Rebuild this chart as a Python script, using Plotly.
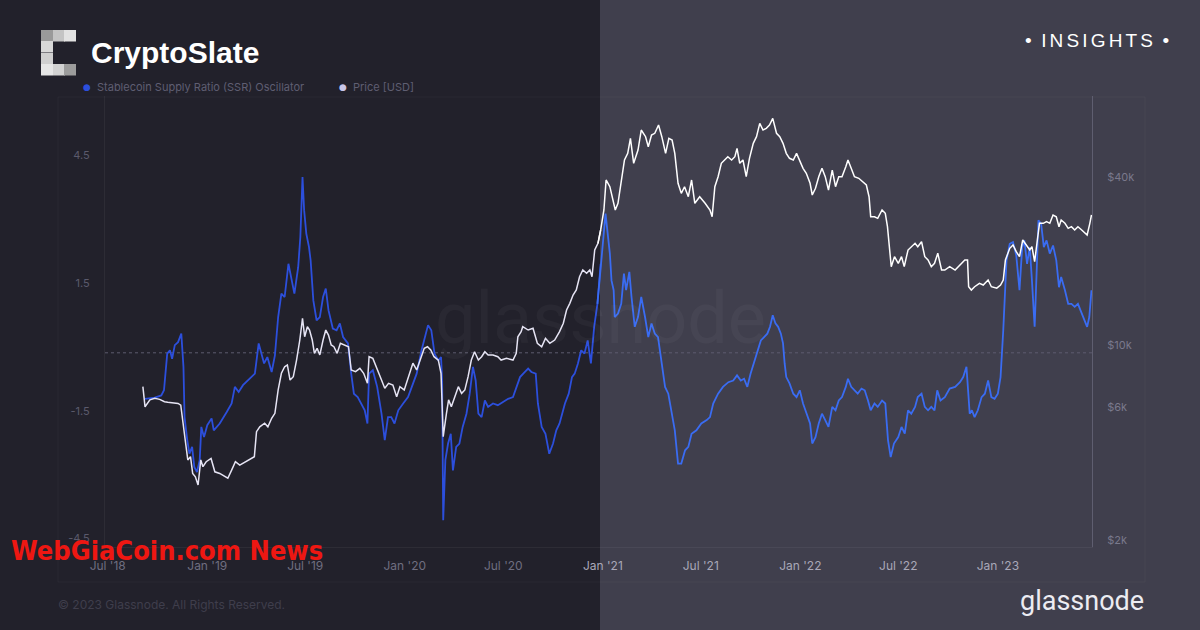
import plotly.graph_objects as go
import pandas as pd

# ---------------- data ----------------
ssr_dates = [
    "2018-09-08", "2018-09-26", "2018-10-08", "2018-10-13", "2018-10-19", "2018-10-24", "2018-10-28", "2018-11-02",
    "2018-11-08", "2018-11-14", "2018-11-18", "2018-11-20", "2018-11-25", "2018-11-29", "2018-12-04", "2018-12-08",
    "2018-12-13", "2018-12-18", "2018-12-21", "2018-12-26", "2019-01-01", "2019-01-09", "2019-01-13", "2019-01-24",
    "2019-02-06", "2019-02-15", "2019-02-21", "2019-02-28", "2019-03-08", "2019-03-21", "2019-03-30", "2019-04-06",
    "2019-04-12", "2019-04-16", "2019-04-22", "2019-04-30", "2019-05-06", "2019-05-12", "2019-05-18", "2019-05-24",
    "2019-05-31", "2019-06-04", "2019-06-11", "2019-06-18", "2019-06-22", "2019-06-26", "2019-06-29", "2019-07-03",
    "2019-07-08", "2019-07-11", "2019-07-16", "2019-07-22", "2019-07-28", "2019-08-03", "2019-08-08", "2019-08-13",
    "2019-08-21", "2019-08-28", "2019-09-03", "2019-09-09", "2019-09-18", "2019-09-24", "2019-09-29", "2019-10-06",
    "2019-10-13", "2019-10-19", "2019-10-24", "2019-10-27", "2019-11-03", "2019-11-11", "2019-11-19", "2019-11-25",
    "2019-12-01", "2019-12-07", "2019-12-13", "2019-12-20", "2019-12-29", "2020-01-07", "2020-01-14", "2020-01-23",
    "2020-02-01", "2020-02-07", "2020-02-13", "2020-02-19", "2020-02-25", "2020-03-03", "2020-03-08", "2020-03-10",
    "2020-03-12", "2020-03-16", "2020-03-21", "2020-03-26", "2020-03-30", "2020-04-05", "2020-04-11", "2020-04-17",
    "2020-04-24", "2020-04-30", "2020-05-06", "2020-05-11", "2020-05-16", "2020-05-22", "2020-05-28", "2020-06-03",
    "2020-06-12", "2020-06-21", "2020-06-30", "2020-07-10", "2020-07-19", "2020-07-26", "2020-08-01", "2020-08-10",
    "2020-08-16", "2020-08-22", "2020-08-30", "2020-09-03", "2020-09-10", "2020-09-17", "2020-09-24", "2020-10-01",
    "2020-10-07", "2020-10-13", "2020-10-23", "2020-10-30", "2020-11-05", "2020-11-10", "2020-11-16", "2020-11-22",
    "2020-11-28", "2020-12-04", "2020-12-10", "2020-12-16", "2020-12-22", "2020-12-28", "2021-01-01", "2021-01-06",
    "2021-01-10", "2021-01-14", "2021-01-17", "2021-01-21", "2021-01-23", "2021-01-29", "2021-02-04", "2021-02-09",
    "2021-02-13", "2021-02-19", "2021-02-23", "2021-03-01", "2021-03-07", "2021-03-13", "2021-03-20", "2021-03-26",
    "2021-04-01", "2021-04-07", "2021-04-13", "2021-04-19", "2021-04-26", "2021-05-02", "2021-05-08", "2021-05-14",
    "2021-05-20", "2021-05-26", "2021-06-02", "2021-06-08", "2021-06-14", "2021-06-23", "2021-07-02", "2021-07-12",
    "2021-07-18", "2021-07-24", "2021-08-02", "2021-08-11", "2021-08-21", "2021-08-30", "2021-09-06", "2021-09-13",
    "2021-09-19", "2021-09-25", "2021-10-01", "2021-10-08", "2021-10-14", "2021-10-20", "2021-10-26", "2021-11-01",
    "2021-11-06", "2021-11-11", "2021-11-16", "2021-11-21", "2021-11-26", "2021-11-30", "2021-12-03", "2021-12-06",
    "2021-12-12", "2021-12-19", "2021-12-25", "2021-12-31", "2022-01-06", "2022-01-12", "2022-01-19", "2022-01-23",
    "2022-01-29", "2022-02-04", "2022-02-10", "2022-02-16", "2022-02-22", "2022-03-01", "2022-03-07", "2022-03-13",
    "2022-03-19", "2022-03-26", "2022-03-30", "2022-04-05", "2022-04-11", "2022-04-17", "2022-04-24", "2022-04-30",
    "2022-05-06", "2022-05-11", "2022-05-18", "2022-05-24", "2022-06-01", "2022-06-07", "2022-06-12", "2022-06-17",
    "2022-06-23", "2022-07-01", "2022-07-07", "2022-07-13", "2022-07-19", "2022-07-25", "2022-08-01", "2022-08-06",
    "2022-08-13", "2022-08-19", "2022-08-25", "2022-08-31", "2022-09-06", "2022-09-11", "2022-09-17", "2022-09-25",
    "2022-10-04", "2022-10-14", "2022-10-23", "2022-10-29", "2022-11-04", "2022-11-07", "2022-11-10", "2022-11-14",
    "2022-11-19", "2022-11-25", "2022-12-02", "2022-12-08", "2022-12-14", "2022-12-20", "2022-12-26", "2023-01-01",
    "2023-01-06", "2023-01-11", "2023-01-14", "2023-01-17", "2023-01-23", "2023-01-29", "2023-02-04", "2023-02-10",
    "2023-02-15", "2023-02-19", "2023-02-24", "2023-03-01", "2023-03-05", "2023-03-10", "2023-03-14", "2023-03-17",
    "2023-03-22", "2023-03-27", "2023-04-01", "2023-04-07", "2023-04-13", "2023-04-19", "2023-04-24", "2023-04-28",
    "2023-05-05", "2023-05-11", "2023-05-17", "2023-05-23", "2023-05-29", "2023-06-05", "2023-06-11", "2023-06-15",
    "2023-06-19", "2023-06-23",
]
ssr_values = [
    -1.08, -1.05, -1.00, -0.88, -0.02, 0.06, -0.14, 0.18,
    0.25, 0.45, -0.33, -1.51, -2.05, -2.37, -2.21, -2.68,
    -2.80, -2.52, -1.74, -1.98, -1.70, -1.54, -1.82, -1.66,
    -1.39, -1.19, -0.80, -0.92, -0.76, -0.61, -0.49, 0.22,
    -0.06, -0.25, -0.10, -0.45, -0.06, 0.84, 1.39, 1.31,
    2.09, 1.86, 1.39, 2.01, 2.72, 4.13, 3.35, 2.80,
    2.48, 2.17, 1.23, 0.76, 0.84, 1.31, 1.51, 1.00,
    0.57, 0.53, 0.69, 0.37, 0.22, -0.49, -0.96, -1.04,
    -1.19, -1.35, -1.66, -0.49, -0.41, -0.80, -1.43, -2.05,
    -1.51, -1.51, -1.66, -1.35, -1.19, -1.04, -0.80, -0.49,
    0.06, 0.37, 0.65, 0.53, -0.02, -0.18, -0.10, -0.65,
    -3.93, -2.52, -2.13, -1.90, -2.76, -2.21, -2.13, -1.74,
    -1.43, -0.96, -0.33, -0.65, -1.43, -1.51, -1.12, -1.27,
    -1.19, -1.23, -1.15, -1.08, -1.04, -0.80, -0.57, -0.45,
    -0.37, -0.45, -0.49, -1.19, -1.74, -1.90, -2.37, -2.13,
    -1.82, -1.66, -1.19, -0.96, -0.57, -0.49, -0.25, 0.06,
    -0.02, 0.29, -0.25, 0.61, 1.15, 2.09, 2.56, 3.27,
    2.72, 2.33, 1.70, 1.47, 0.84, 0.92, 1.15, 1.86,
    1.47, 1.90, 1.31, 0.61, 0.84, 1.31, 0.84, 0.37,
    0.69, 0.45, 0.37, -0.18, -0.80, -0.96, -1.35, -1.82,
    -2.60, -2.60, -2.29, -2.21, -1.90, -1.82, -1.66, -1.58,
    -1.51, -1.19, -0.96, -0.80, -0.69, -0.65, -0.53, -0.65,
    -0.61, -0.80, -0.49, -0.18, 0.06, 0.29, 0.37, 0.45,
    0.61, 0.88, 0.69, 0.61, 0.45, 0.22, -0.25, -0.57,
    -0.72, -0.96, -1.04, -0.88, -1.19, -1.43, -1.66, -2.13,
    -1.98, -1.66, -1.43, -1.58, -1.74, -1.27, -1.35, -1.12,
    -1.04, -0.80, -0.61, -0.80, -0.88, -0.96, -0.84, -0.88,
    -1.12, -1.35, -1.19, -1.27, -1.12, -1.19, -2.05, -2.45,
    -2.13, -1.98, -1.74, -1.90, -1.35, -1.43, -1.27, -1.04,
    -0.96, -1.27, -1.35, -1.27, -1.35, -0.88, -1.12, -1.04,
    -0.84, -0.80, -0.69, -0.57, -0.33, -0.80, -1.43, -1.35,
    -1.51, -1.35, -1.04, -0.96, -0.65, -1.04, -1.08, -0.96,
    -0.57, 0.53, 1.54, 2.17, 2.56, 2.60, 2.29, 1.47,
    2.48, 2.64, 2.09, 2.48, 1.70, 0.61, 2.01, 3.11,
    3.03, 2.48, 2.64, 2.33, 2.52, 2.17, 1.54, 1.78,
    1.47, 1.15, 1.15, 1.08, 1.15, 0.92, 0.76, 0.61,
    0.84, 1.47,
]

price_dates = [
    "2018-09-04", "2018-09-08", "2018-09-17", "2018-09-26", "2018-10-05", "2018-10-14", "2018-10-20", "2018-10-30",
    "2018-11-08", "2018-11-13", "2018-11-17", "2018-11-22", "2018-11-26", "2018-12-01", "2018-12-05", "2018-12-10",
    "2018-12-15", "2018-12-20", "2018-12-24", "2018-12-30", "2019-01-08", "2019-01-15", "2019-01-24", "2019-02-02",
    "2019-02-08", "2019-02-15", "2019-02-22", "2019-03-02", "2019-03-11", "2019-03-21", "2019-03-29", "2019-04-02",
    "2019-04-08", "2019-04-17", "2019-04-23", "2019-04-30", "2019-05-06", "2019-05-12", "2019-05-18", "2019-05-24",
    "2019-05-29", "2019-06-03", "2019-06-09", "2019-06-15", "2019-06-21", "2019-06-26", "2019-06-30", "2019-07-05",
    "2019-07-09", "2019-07-14", "2019-07-18", "2019-07-23", "2019-07-28", "2019-08-03", "2019-08-08", "2019-08-13",
    "2019-08-18", "2019-08-23", "2019-08-29", "2019-09-04", "2019-09-12", "2019-09-19", "2019-09-24", "2019-10-02",
    "2019-10-10", "2019-10-17", "2019-10-24", "2019-10-27", "2019-11-03", "2019-11-11", "2019-11-19", "2019-11-25",
    "2019-12-02", "2019-12-10", "2019-12-17", "2019-12-23", "2019-12-31", "2020-01-04", "2020-01-10", "2020-01-16",
    "2020-01-23", "2020-01-29", "2020-02-06", "2020-02-12", "2020-02-18", "2020-02-24", "2020-03-03", "2020-03-08",
    "2020-03-12", "2020-03-18", "2020-03-22", "2020-03-27", "2020-04-04", "2020-04-09", "2020-04-15", "2020-04-21",
    "2020-04-27", "2020-05-03", "2020-05-09", "2020-05-16", "2020-05-22", "2020-05-28", "2020-06-03", "2020-06-12",
    "2020-06-21", "2020-06-27", "2020-07-07", "2020-07-19", "2020-07-25", "2020-07-28", "2020-08-03", "2020-08-06",
    "2020-08-16", "2020-08-25", "2020-09-02", "2020-09-10", "2020-09-17", "2020-09-25", "2020-10-04", "2020-10-13",
    "2020-10-20", "2020-10-26", "2020-11-01", "2020-11-07", "2020-11-13", "2020-11-19", "2020-11-25", "2020-12-02",
    "2020-12-08", "2020-12-12", "2020-12-17", "2020-12-23", "2020-12-28", "2021-01-03", "2021-01-07", "2021-01-14",
    "2021-01-20", "2021-01-24", "2021-01-29", "2021-02-04", "2021-02-10", "2021-02-16", "2021-02-21", "2021-02-27",
    "2021-03-07", "2021-03-13", "2021-03-21", "2021-03-26", "2021-04-01", "2021-04-07", "2021-04-14", "2021-04-20",
    "2021-04-27", "2021-05-03", "2021-05-09", "2021-05-14", "2021-05-20", "2021-05-26", "2021-06-01", "2021-06-08",
    "2021-06-14", "2021-06-20", "2021-06-29", "2021-07-09", "2021-07-18", "2021-07-22", "2021-07-27", "2021-08-02",
    "2021-08-08", "2021-08-14", "2021-08-20", "2021-08-27", "2021-09-02", "2021-09-06", "2021-09-11", "2021-09-17",
    "2021-09-23", "2021-09-29", "2021-10-06", "2021-10-12", "2021-10-18", "2021-10-24", "2021-10-30", "2021-11-05",
    "2021-11-11", "2021-11-18", "2021-11-24", "2021-11-30", "2021-12-06", "2021-12-12", "2021-12-19", "2021-12-25",
    "2021-12-31", "2022-01-06", "2022-01-12", "2022-01-19", "2022-01-23", "2022-01-29", "2022-02-04", "2022-02-10",
    "2022-02-16", "2022-02-22", "2022-03-01", "2022-03-07", "2022-03-13", "2022-03-19", "2022-03-26", "2022-03-30",
    "2022-04-05", "2022-04-11", "2022-04-19", "2022-04-27", "2022-05-03", "2022-05-08", "2022-05-11", "2022-05-18",
    "2022-05-24", "2022-06-01", "2022-06-07", "2022-06-11", "2022-06-15", "2022-06-18", "2022-06-24", "2022-07-01",
    "2022-07-07", "2022-07-12", "2022-07-19", "2022-07-25", "2022-08-01", "2022-08-06", "2022-08-13", "2022-08-19",
    "2022-08-25", "2022-08-31", "2022-09-06", "2022-09-12", "2022-09-19", "2022-09-25", "2022-10-04", "2022-10-14",
    "2022-10-23", "2022-11-01", "2022-11-06", "2022-11-08", "2022-11-13", "2022-11-19", "2022-11-28", "2022-12-05",
    "2022-12-14", "2022-12-20", "2022-12-30", "2023-01-06", "2023-01-11", "2023-01-15", "2023-01-23", "2023-01-29",
    "2023-02-04", "2023-02-10", "2023-02-16", "2023-02-23", "2023-03-01", "2023-03-05", "2023-03-10", "2023-03-15",
    "2023-03-19", "2023-03-26", "2023-04-01", "2023-04-07", "2023-04-13", "2023-04-19", "2023-04-24", "2023-04-28",
    "2023-05-05", "2023-05-11", "2023-05-17", "2023-05-23", "2023-05-29", "2023-06-05", "2023-06-11", "2023-06-15",
    "2023-06-20", "2023-06-23",
]
price_values = [
    7450, 6310, 6680, 6770, 6710, 6580, 6550, 6530,
    6490, 6400, 5660, 4670, 4070, 4180, 3640, 3540,
    3310, 4070, 3850, 4010, 4120, 3690, 3640, 3540,
    3500, 3740, 4010, 3900, 4000, 4090, 4180, 5140,
    5350, 5510, 5350, 5740, 5980, 7250, 8320, 8780,
    8910, 7870, 8090, 9280, 10950, 13100, 11250, 12220,
    11890, 10950, 9810, 10220, 9680, 10950, 11890, 11410,
    10510, 10360, 9810, 10660, 10510, 10360, 8550, 8430,
    8670, 8320, 7660, 9540, 9410, 8670, 7870, 7350,
    7660, 7550, 6860, 7450, 7250, 7660, 8320, 9040,
    8550, 9280, 10220, 10360, 10080, 9540, 9280, 8320,
    4930, 5980, 6680, 6310, 7050, 7450, 7050, 7250,
    8090, 9280, 9940, 9280, 9540, 9940, 9680, 9680,
    9540, 9280, 9410, 9280, 9810, 11250, 11730, 12220,
    11890, 12060, 10660, 10360, 11100, 10660, 10950, 11730,
    12570, 14030, 14820, 15870, 16540, 18460, 19510, 18990,
    19510, 18460, 23010, 24320, 27150, 32020, 41020, 38810,
    34770, 32020, 33840, 39920, 48370, 51110, 57850, 47070,
    52520, 61960, 58630, 53980, 59460, 60300, 64570, 58630,
    51110, 57800, 57050, 51110, 39920, 36750, 38800, 35730,
    41020, 33840, 35730, 33840, 32020, 30290, 38810, 42150,
    47070, 48370, 49700, 48370, 49700, 53270, 47070, 48370,
    42150, 49060, 55520, 58630, 65480, 61960, 62840, 64570,
    68240, 60300, 58630, 55520, 51110, 49060, 48370, 51110,
    47690, 45160, 43350, 39920, 36240, 38300, 42150, 45160,
    42150, 37760, 44530, 38810, 42150, 42150, 45770, 48370,
    45160, 42150, 41590, 40440, 39360, 35730, 30290, 30290,
    29890, 32020, 31150, 27900, 23010, 20060, 21780, 20620,
    21780, 20060, 23010, 23650, 24320, 23650, 24650, 21780,
    21200, 20060, 20620, 22400, 19510, 19510, 20060, 19510,
    20340, 21200, 21200, 17000, 16540, 17000, 17480, 17240,
    17970, 17000, 16800, 17240, 17970, 21200, 23340, 23990,
    22700, 21780, 25000, 23990, 23010, 23650, 20890, 25000,
    28690, 28690, 29070, 28690, 30720, 30290, 27900, 29480,
    28690, 27530, 27900, 27150, 27900, 27150, 26420, 26050,
    28690, 30720,
]

x_tick_dates = ["2018-07-01", "2019-01-01", "2019-07-01", "2020-01-01", "2020-07-01",
                "2021-01-01", "2021-07-01", "2022-01-01", "2022-07-01", "2023-01-01"]
x_tick_labels = ["Jul '18", "Jan '19", "Jul '19", "Jan '20", "Jul '20",
                 "Jan '21", "Jul '21", "Jan '22", "Jul '22", "Jan '23"]
ssr_tick_values = [-4.5, -1.5, 1.5, 4.5]
price_tick_values = [2000, 6000, 10000, 40000]
price_tick_labels = ["$2k", "$6k", "$10k", "$40k"]

# ---------------- layout helpers ----------------
W, H = 1200, 630
PL, PR, PT, PB = 105, 1092, 96, 547
SPLIT_X = 600               # where the lighter panel begins (pixels)
SPLIT_DATE = "2020-12-26"   # date under that pixel


def px(x):
    return (x - PL) / (PR - PL)


def py(y):
    return (PB - y) / (PB - PT)


def split_series(dates, values, boundary):
    s = pd.Series(values, index=pd.to_datetime(dates))
    b = pd.Timestamp(boundary)
    left_idx = [i for i, d in enumerate(s.index) if d <= b]
    cut = left_idx[-1] + 1 if left_idx else 0
    left = s.iloc[: min(cut + 1, len(s))]
    right = s.iloc[max(cut - 1, 0):]
    return left, right


fig = go.Figure()

ssr_left, ssr_right = split_series(ssr_dates, ssr_values, SPLIT_DATE)
pr_left, pr_right = split_series(price_dates, price_values, SPLIT_DATE)

fig.add_trace(go.Scatter(x=ssr_left.index, y=ssr_left.values, mode="lines",
                         line=dict(color="#2c4fdc", width=1.8), yaxis="y", showlegend=False))
fig.add_trace(go.Scatter(x=ssr_right.index, y=ssr_right.values, mode="lines",
                         line=dict(color="#3a6cf2", width=1.8), yaxis="y", showlegend=False))
fig.add_trace(go.Scatter(x=pr_left.index, y=pr_left.values, mode="lines",
                         line=dict(color="#e6e4f4", width=1.5), yaxis="y2", showlegend=False))
fig.add_trace(go.Scatter(x=pr_right.index, y=pr_right.values, mode="lines",
                         line=dict(color="#ffffff", width=1.5), yaxis="y2", showlegend=False))

x_colors = ["#6f6e80"] * 5 + ["#a9a8b8"] * 5
x_text = [f"<span style='color:{c}'>{t}</span>" for t, c in zip(x_tick_labels, x_colors)]

shapes = [
    # lighter right panel
    dict(type="rect", xref="paper", yref="paper", x0=px(SPLIT_X), x1=px(W), y0=py(H), y1=py(0),
         fillcolor="#403f4d", line=dict(width=0), layer="below"),
    # faint outer frame
    dict(type="rect", xref="paper", yref="paper", x0=px(58), x1=px(1145), y0=py(582), y1=py(97),
         fillcolor="rgba(0,0,0,0)", line=dict(color="rgba(255,255,255,0.035)", width=1), layer="below"),
    # zero line (dotted)
    dict(type="line", xref="paper", yref="y", x0=0, x1=1, y0=0, y1=0,
         line=dict(color="#5d5c6e", width=1, dash="dot"), layer="below"),
]

# pixelated CryptoSlate logo
logo_cells = [
    (41, 30, "#9a9a9a"), (53, 30, "#c4c4c4"), (64, 30, "#e2e2e2"),
    (41, 41, "#d8d8d8"),
    (41, 53, "#cfcfcf"),
    (41, 64, "#e6e6e6"), (53, 64, "#d2d2d2"), (64, 64, "#9c9c9c"),
]
for cx, cy, col in logo_cells:
    shapes.append(dict(type="rect", xref="paper", yref="paper",
                       x0=px(cx), x1=px(cx + 12), y0=py(cy + 11.5), y1=py(cy),
                       fillcolor=col, line=dict(width=0), layer="above"))

sp = "\u2006"
insights = "•\u2002" + sp.join("INSIGHTS") + "\u2002•"

annotations = [
    dict(text="<b>CryptoSlate</b>", x=px(89), y=py(53), xanchor="left", yanchor="middle",
         font=dict(family="Liberation Sans, Arial, sans-serif", size=30, color="#ffffff")),
    dict(text=insights, x=px(1171), y=py(41), xanchor="right", yanchor="middle",
         font=dict(family="Liberation Sans, Arial, sans-serif", size=19, color="#ffffff")),
    dict(text="●", x=px(87), y=py(87), xanchor="center", yanchor="middle",
         font=dict(family="DejaVu Sans", size=9, color="#2c4fdc")),
    dict(text="Stablecoin Supply Ratio (SSR) Oscillator", x=px(95), y=py(87), xanchor="left", yanchor="middle",
         font=dict(family="Inter, sans-serif", size=11, color="#5f5e72")),
    dict(text="●", x=px(343), y=py(87), xanchor="center", yanchor="middle",
         font=dict(family="DejaVu Sans", size=9, color="#c9c6e8")),
    dict(text="Price [USD]", x=px(351), y=py(87), xanchor="left", yanchor="middle",
         font=dict(family="Inter, sans-serif", size=11, color="#5f5e72")),
    dict(text="glassnode", x=px(600), y=py(318), xanchor="center", yanchor="middle",
         font=dict(family="Roboto, sans-serif", size=72, color="rgba(255,255,255,0.035)")),
    dict(text="© 2023 Glassnode. All Rights Reserved.", x=px(56), y=py(604), xanchor="left", yanchor="middle",
         font=dict(family="Inter, sans-serif", size=12, color="#3f3e4c")),
    dict(text="glassnode", x=px(1146), y=py(601), xanchor="right", yanchor="middle",
         font=dict(family="Roboto, sans-serif", size=27, color="#ececf2")),
    dict(text="<b>WebGiaCoin.com News</b>", x=px(9), y=py(550), xanchor="left", yanchor="middle",
         font=dict(family="Liberation Sans Narrow, DejaVu Sans Condensed, Arial Narrow, sans-serif",
                   size=27, color="#ee1712")),
]
for a in annotations:
    a.update(xref="paper", yref="paper", showarrow=False)

fig.update_layout(
    width=W, height=H,
    margin=dict(l=PL, r=W - PR, t=PT, b=H - PB, pad=0),
    paper_bgcolor="#22212b", plot_bgcolor="rgba(0,0,0,0)",
    showlegend=False,
    xaxis=dict(type="date", range=["2018-06-26", "2023-06-24"],
               tickvals=x_tick_dates, ticktext=x_text,
               showgrid=False, zeroline=False,
               showline=True, linecolor="rgba(255,255,255,0.05)", linewidth=1,
               ticks="", ticklabelstandoff=8,
               tickfont=dict(family="Inter, sans-serif", size=12)),
    yaxis=dict(range=[-4.56, 6.03], tickvals=ssr_tick_values,
               ticktext=[str(v) for v in ssr_tick_values],
               showgrid=False, zeroline=False,
               showline=True, linecolor="rgba(255,255,255,0.05)", linewidth=1,
               ticks="", ticklabelstandoff=12, ticklabelshift=-6,
               tickfont=dict(family="Inter, sans-serif", size=11, color="#5b5a6c")),
    yaxis2=dict(type="log", range=[3.2975, 4.914], overlaying="y", side="right",
                tickvals=price_tick_values, ticktext=price_tick_labels,
                showgrid=False, zeroline=False,
                showline=True, linecolor="#5f5e70", linewidth=1,
                ticks="", ticklabelstandoff=12, ticklabelshift=-6,
                tickfont=dict(family="Inter, sans-serif", size=11, color="#7a798c")),
    shapes=shapes,
    annotations=annotations,
)

fig.write_html("out.html",
               config={"displayModeBar": False},
               post_script="document.body.style.margin='0';document.body.style.background='#22212b';")
